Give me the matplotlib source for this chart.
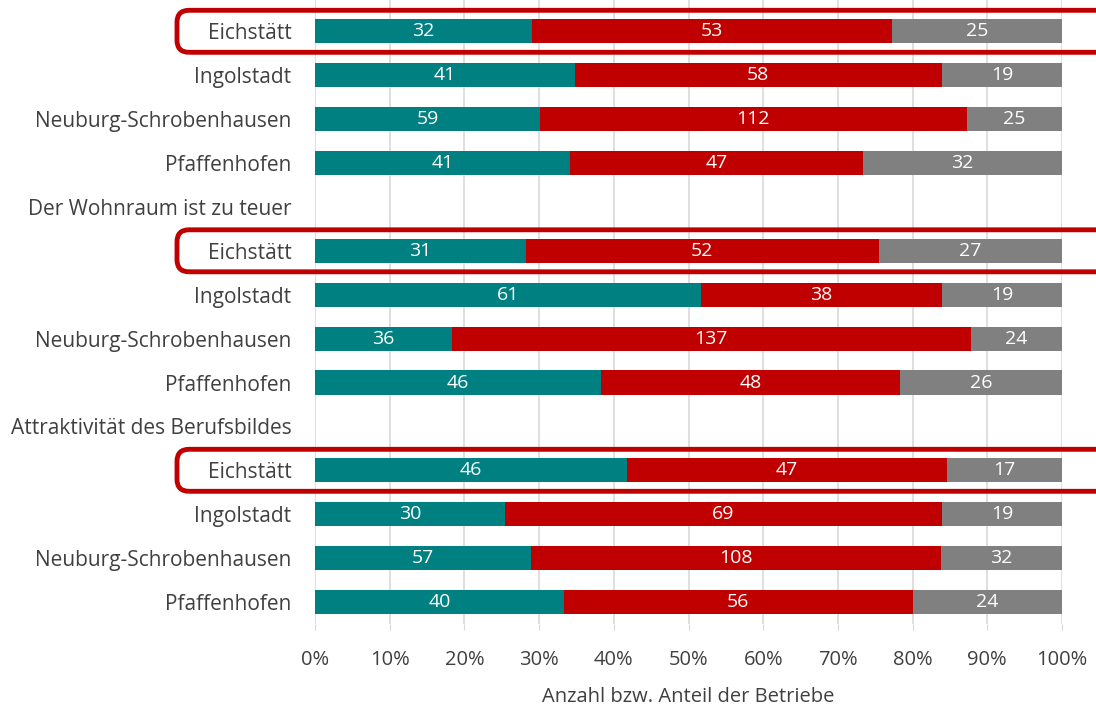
import matplotlib.pyplot as plt
import numpy as np
from matplotlib.patches import FancyBboxPatch

# rows from top to bottom; None = group header (no bar)
row_labels = ["", "Eichstätt", "Ingolstadt", "Neuburg-Schrobenhausen", "Pfaffenhofen",
              "Der Wohnraum ist zu teuer",
              "Eichstätt", "Ingolstadt", "Neuburg-Schrobenhausen", "Pfaffenhofen",
              "Attraktivität des Berufsbildes",
              "Eichstätt", "Ingolstadt", "Neuburg-Schrobenhausen", "Pfaffenhofen"]
teal_vals = [None, 32, 41, 59, 41, None, 31, 61, 36, 46, None, 46, 30, 57, 40]
red_vals = [None, 53, 58, 112, 47, None, 52, 38, 137, 48, None, 47, 69, 108, 56]
gray_vals = [None, 25, 19, 25, 32, None, 27, 19, 24, 26, None, 17, 19, 32, 24]
highlight_rows = [1, 6, 11]

colors = ["#008080", "#C00000", "#808080"]
font = ["Open Sans", "DejaVu Sans"]
plt.rcParams["font.family"] = font

W, H = 1096, 711
fig = plt.figure(figsize=(W / 100, H / 100), dpi=100)
# axes: x 0..100% from px 315 to 1062; rows spaced ~43.9 px, last row center at 602
row_px = 43.9
y_bot_px = 602 + row_px / 2
y_top_px = y_bot_px - row_px * len(row_labels)
ax = fig.add_axes([315 / W, (H - y_bot_px) / H, 747 / W, (y_bot_px - y_top_px) / H])

n = len(row_labels)
ax.set_ylim(n - 0.5, -0.5)
ax.set_xlim(0, 1)

for i in range(n):
    if teal_vals[i] is None:
        continue
    vals = [teal_vals[i], red_vals[i], gray_vals[i]]
    total = sum(vals)
    left = 0
    for v, c in zip(vals, colors):
        w = v / total
        ax.barh(i, w, left=left, height=0.55, color=c, zorder=3)
        ax.text(left + w / 2, i, str(v), ha="center", va="center", color="white",
                fontsize=14, zorder=4)
        left += w

ax.set_yticks(range(n))
ax.set_yticklabels(row_labels, fontsize=15, color="#404040")
ax.tick_params(axis="y", length=0, pad=17)

xt = np.linspace(0, 1, 11)
ax.set_xticks(xt)
ax.set_xticklabels([f"{int(round(t * 100))}%" for t in xt], fontsize=14.5, color="#404040")
ax.tick_params(axis="x", length=4, color="#D9D9D9", pad=15)
ax.grid(axis="x", color="#D9D9D9", linewidth=1.2, zorder=0)
for s in ax.spines.values():
    s.set_visible(False)
ax.set_xlabel("Anzahl bzw. Anteil der Betriebe", fontsize=14.5, color="#404040", labelpad=12)

# red rounded highlight boxes (figure pixel coords)
for r in highlight_rows:
    yc = y_top_px + row_px * (r + 0.5)
    box = FancyBboxPatch((177 / W, (H - yc - 21) / H), 1000 / W, 42 / H,
                         boxstyle="round,pad=0,rounding_size=0.011",
                         transform=fig.transFigure, fill=False,
                         edgecolor="#C00000", linewidth=3.5, clip_on=False,
                         mutation_aspect=W / H)
    fig.add_artist(box)

fig.savefig("out.png", dpi=100)
